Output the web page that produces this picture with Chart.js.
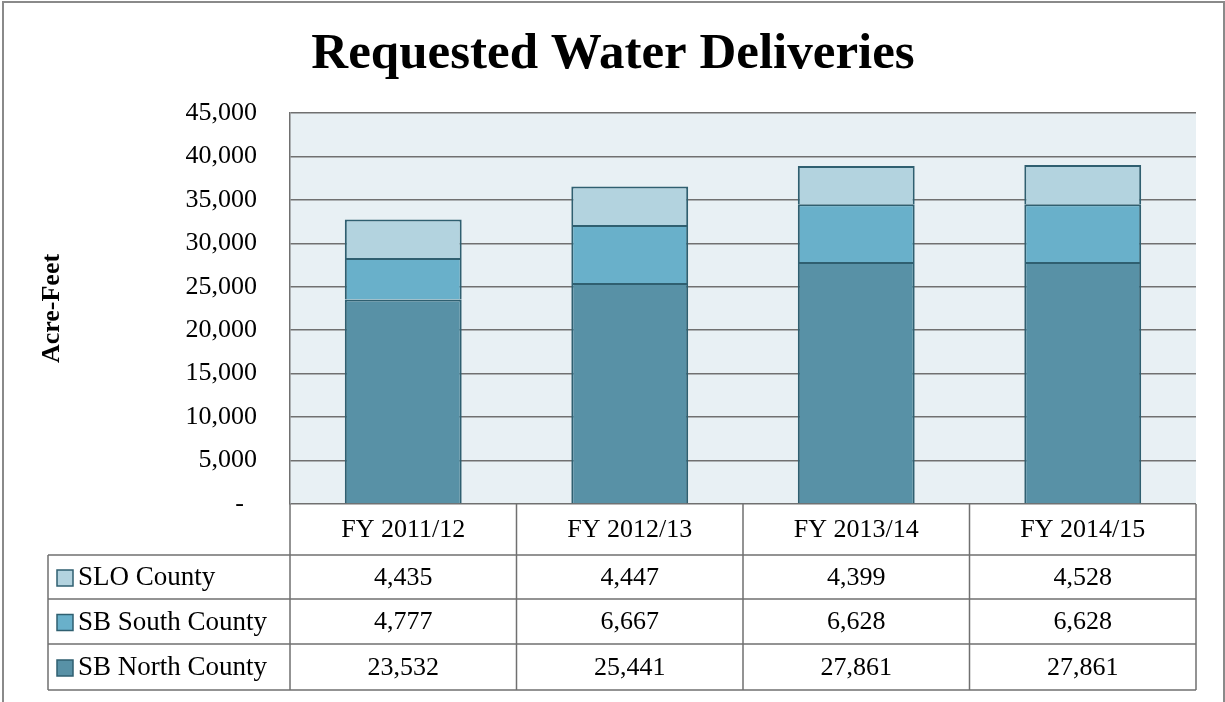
<!DOCTYPE html>
<html>
<head>
<meta charset="utf-8">
<script src="https://cdn.jsdelivr.net/npm/chart.js@4.4.0/dist/chart.umd.min.js"></script>
<style>
  body { margin: 0; background: #fff; }
  #wrap { width: 1225px; height: 702px; }
</style>
</head>
<body>
<div id="wrap"><canvas id="waterChart" width="1225" height="702"></canvas></div>
<script>
// data
const years = ['FY 2011/12', 'FY 2012/13', 'FY 2013/14', 'FY 2014/15'];
const sbNorth = [23532, 25441, 27861, 27861];
const sbSouth = [4777, 6667, 6628, 6628];
const sloCounty = [4435, 4447, 4399, 4528];
const yTicks = [0, 5000, 10000, 15000, 20000, 25000, 30000, 35000, 40000, 45000];
const chartTitle = 'Requested Water Deliveries';

const serif = '"Liberation Serif", "Times New Roman", serif';
const borderCol = '#2f5f70';
const gridCol = '#707070';

// plot background, outer frame and centered title
const plotBackground = {
    id: 'plotBackground',
    beforeDraw(chart) {
        const { ctx, chartArea } = chart;
        ctx.save();
        ctx.fillStyle = '#fff';
        ctx.fillRect(0, 0, chart.width, chart.height);
        ctx.fillStyle = '#e8f0f4';
        ctx.fillRect(chartArea.left, chartArea.top, chartArea.right - chartArea.left, chartArea.bottom - chartArea.top);
        ctx.strokeStyle = '#8a8a8a';
        ctx.lineWidth = 2;
        ctx.strokeRect(3, 2, chart.width - 4, chart.height + 20);

        ctx.fillStyle = '#000';
        ctx.font = 'bold 51px ' + serif;
        ctx.textAlign = 'center';
        ctx.textBaseline = 'alphabetic';
        ctx.fillText(chartTitle, 613, 68);
        ctx.restore();
    }
};

// data table under the bars (category header + one row per series)
const dataTable = {
    id: 'dataTable',
    afterDraw(chart) {
        const { ctx, chartArea } = chart;
        const x = chart.scales.x;
        const half = (chartArea.right - chartArea.left) / years.length / 2;
        const top = chartArea.bottom;
        const rows = [top, 555, 599, 644, 690];
        const legendLeft = 48;

        ctx.save();
        ctx.strokeStyle = gridCol;
        ctx.lineWidth = 1.5;

        // horizontal lines
        ctx.beginPath();
        for (let r = 1; r < rows.length; r++) {
            ctx.moveTo(legendLeft, rows[r]);
            ctx.lineTo(chartArea.right, rows[r]);
        }
        // vertical lines
        for (let i = 0; i <= years.length; i++) {
            const px = chartArea.left + i * half * 2;
            ctx.moveTo(px, top);
            ctx.lineTo(px, rows[4]);
        }
        ctx.moveTo(legendLeft, rows[1]);
        ctx.lineTo(legendLeft, rows[4]);
        ctx.stroke();

        ctx.fillStyle = '#000';
        ctx.font = '26px ' + serif;
        ctx.textAlign = 'center';
        ctx.textBaseline = 'middle';
        years.forEach((y, i) => {
            ctx.fillText(y, x.getPixelForValue(i), (rows[0] + rows[1]) / 2 + 1);
        });

        // rows top to bottom: last dataset first
        const ds = chart.data.datasets.slice().reverse();
        ds.forEach((d, r) => {
            const cy = (rows[r + 1] + rows[r + 2]) / 2 + 1;
            // legend key
            ctx.fillStyle = d.backgroundColor;
            ctx.fillRect(57, cy - 8, 16, 16);
            ctx.strokeStyle = borderCol;
            ctx.lineWidth = 1.5;
            ctx.strokeRect(57, cy - 8, 16, 16);
            ctx.fillStyle = '#000';
            ctx.textAlign = 'left';
            ctx.font = '27px ' + serif;
            ctx.fillText(d.label, 78, cy);
            ctx.textAlign = 'center';
            ctx.font = '26px ' + serif;
            d.data.forEach((v, i) => {
                ctx.fillText(v.toLocaleString('en-US'), x.getPixelForValue(i), cy);
            });
        });
        ctx.restore();
    }
};

const data = {
    labels: years,
    datasets: [
        { label: 'SB North County', data: sbNorth, backgroundColor: '#5891a6' },
        { label: 'SB South County', data: sbSouth, backgroundColor: '#69b0ca' },
        { label: 'SLO County', data: sloCounty, backgroundColor: '#b3d3df' }
    ].map(d => Object.assign(d, {
        borderColor: borderCol,
        borderWidth: 2,
        categoryPercentage: 1,
        barPercentage: 0.516
    }))
};

const config = {
    type: 'bar',
    data: data,
    options: {
        responsive: false,
        animation: false,
        layout: { padding: { left: 0, right: 29, bottom: 198, top: 113 } },
        plugins: {
            legend: { display: false },
            tooltip: { enabled: false },
            title: { display: false }
        },
        scales: {
            x: {
                display: false,
                stacked: true
            },
            y: {
                stacked: true,
                min: 0,
                max: 45000,
                afterFit(scale) { scale.width = 290; },
                afterBuildTicks(scale) { scale.ticks = yTicks.map(v => ({ value: v })); },
                ticks: {
                    color: '#000',
                    padding: 33,
                    font: { family: serif, size: 26 },
                    callback: v => v === 0 ? '-  ' : v.toLocaleString('en-US')
                },
                grid: { color: gridCol, lineWidth: 1.5, drawTicks: false },
                border: { display: true, color: gridCol, width: 1.5 },
                title: {
                    display: true,
                    text: 'Acre-Feet',
                    color: '#000',
                    font: { family: serif, size: 26, weight: 'bold' },
                    padding: { top: 37, bottom: 0 }
                }
            }
        }
    },
    plugins: [plotBackground, dataTable]
};

const myChart = new Chart(document.getElementById('waterChart'), config);
</script>
</body>
</html>
